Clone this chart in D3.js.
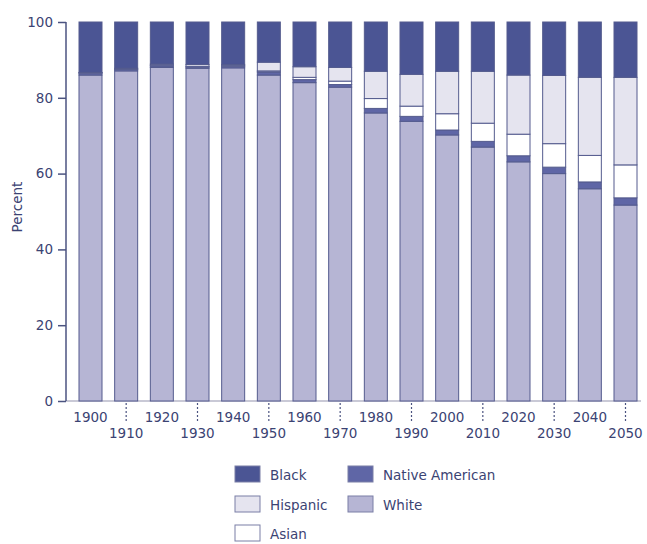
<!doctype html>
<html>
<head>
<meta charset="utf-8">
<script src="https://cdnjs.cloudflare.com/ajax/libs/d3/7.8.5/d3.min.js"></script>
<style>
  body { margin: 0; background: white; }
  svg { background: white; display: block; }
  text { font-family: "DejaVu Sans", sans-serif; fill: #3b4373; }
</style>
</head>
<body>
<svg id="chart" width="647" height="544"></svg>
<script>
// decades and percent shares
const years = [1900, 1910, 1920, 1930, 1940, 1950, 1960, 1970, 1980, 1990, 2000, 2010, 2020, 2030, 2040, 2050];
const white    = [86.0, 87.1, 88.0, 87.8, 87.9, 86.0, 84.0, 82.8, 76.0, 73.8, 70.2, 67.0, 63.1, 60.0, 56.0, 51.7];
const native   = [0.5, 0.4, 0.4, 0.3, 0.4, 0.8, 0.8, 0.7, 1.2, 1.3, 1.3, 1.5, 1.6, 1.7, 1.8, 1.9];
const asian    = [0.1, 0.1, 0.2, 0.2, 0.2, 0.3, 0.6, 0.9, 2.6, 2.7, 4.3, 4.8, 5.7, 6.2, 7.0, 8.7];
const hispanic = [0.1, 0.2, 0.3, 0.5, 0.3, 2.3, 2.8, 3.6, 7.2, 8.4, 11.2, 13.7, 15.6, 18.0, 20.6, 23.1];
const black    = [13.3, 12.2, 11.1, 11.2, 11.2, 10.6, 11.8, 12.0, 13.0, 13.8, 13.0, 13.0, 14.0, 14.1, 14.6, 14.6];
const yTicks = [0, 20, 40, 60, 80, 100];

const keys = ["White", "Native American", "Asian", "Hispanic", "Black"];
const colors = {
  "Black": "#4b5594",
  "Native American": "#5f66a6",
  "Hispanic": "#e5e4ef",
  "White": "#b6b5d4",
  "Asian": "#ffffff"
};

const rows = years.map((y, i) => ({
  year: y, "White": white[i], "Native American": native[i], "Asian": asian[i],
  "Hispanic": hispanic[i], "Black": black[i]
}));

const svg = d3.select("#chart");
const x = d3.scalePoint().domain(years).range([90.5, 625.5]);
const y = d3.scaleLinear().domain([0, 100]).range([401, 22]);
const barW = 23;

const series = d3.stack().keys(keys)(rows);

// gray baseline under the bars
svg.append("line")
  .attr("x1", 66).attr("x2", 641)
  .attr("y1", y(0)).attr("y2", y(0))
  .attr("stroke", "#c9c9d6").attr("stroke-width", 2);

svg.append("g").selectAll("g")
  .data(series)
  .enter().append("g")
  .attr("fill", d => colors[d.key])
  .selectAll("rect")
  .data(d => d)
  .enter().append("rect")
  .attr("x", d => x(d.data.year) - barW / 2)
  .attr("y", d => y(d[1]))
  .attr("width", barW)
  .attr("height", d => y(d[0]) - y(d[1]))
  .attr("stroke", "#545b8e")
  .attr("stroke-width", 1);

// y axis
const yAxis = d3.axisLeft(y).tickValues(yTicks).tickSize(8).tickPadding(5);
const gy = svg.append("g").attr("transform", "translate(66,0)").call(yAxis);
gy.select(".domain").attr("stroke", "#4b5380").attr("stroke-width", 1.5).attr("d", "M0," + y(100) + "V" + y(0));
gy.selectAll(".tick line").attr("stroke", "#4b5380").attr("stroke-width", 1.5);
gy.selectAll(".tick text").style("font-size", "13.5px").attr("fill", "#3b4373").attr("font-family", null);

svg.append("text")
  .attr("transform", "translate(22,207) rotate(-90)")
  .attr("text-anchor", "middle")
  .style("font-size", "13.5px")
  .text("Percent");

// x labels, alternating rows
const gx = svg.append("g");
gx.selectAll("text")
  .data(years)
  .enter().append("text")
  .attr("x", d => x(d))
  .attr("y", (d, i) => i % 2 === 0 ? 422 : 438)
  .attr("text-anchor", "middle")
  .style("font-size", "13.5px")
  .text(d => d);

gx.selectAll("line")
  .data(years.filter((d, i) => i % 2 === 1))
  .enter().append("line")
  .attr("x1", d => x(d)).attr("x2", d => x(d))
  .attr("y1", 403).attr("y2", 422)
  .attr("stroke", "#4b5380")
  .attr("stroke-width", 1.2)
  .attr("stroke-dasharray", "2,2");

// legend
const legendItems = [
  { key: "Black", x: 235, y: 466 },
  { key: "Native American", x: 348, y: 466 },
  { key: "Hispanic", x: 235, y: 496 },
  { key: "White", x: 348, y: 496 },
  { key: "Asian", x: 235, y: 525 }
];
const lg = svg.append("g").selectAll("g")
  .data(legendItems)
  .enter().append("g")
  .attr("transform", d => "translate(" + d.x + "," + d.y + ")");
lg.append("rect")
  .attr("width", 25).attr("height", 16)
  .attr("fill", d => colors[d.key])
  .attr("stroke", "#7a7fa6").attr("stroke-width", 1);
lg.append("text")
  .attr("x", 35).attr("y", 14)
  .style("font-size", "13.5px")
  .text(d => d.key);
</script>
</body>
</html>
